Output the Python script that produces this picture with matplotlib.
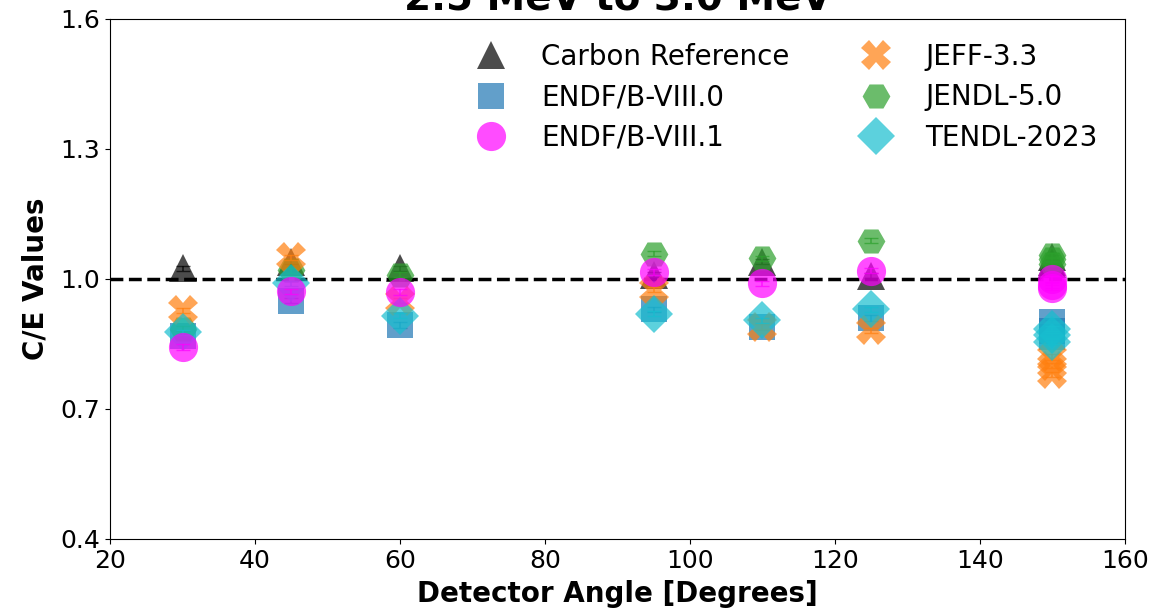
import numpy as np
import matplotlib
matplotlib.use('Agg')
import matplotlib.pyplot as plt

# detector angles (three detectors sit at 150 degrees)
angles = [30, 45, 60, 95, 110, 125, 150, 150, 150]

carbon = [1.025, 1.040, 1.025, 1.010, 1.040, 1.008, 1.050, 1.040, 1.035]
endf80 = [0.868, 0.950, 0.894, 0.930, 0.889, 0.910, 0.900, 0.880, 0.865]
endf81 = [0.843, 0.972, 0.970, 1.016, 0.990, 1.019, 1.000, 0.985, 0.980]
jeff33 = [0.928, 1.050, 0.950, 0.975, 0.890, 0.882, 0.820, 0.800, 0.780]
jendl50 = [0.885, 1.020, 1.010, 1.058, 1.048, 1.088, 1.055, 1.045, 1.035]
tendl23 = [0.877, 0.990, 0.915, 0.920, 0.905, 0.930, 0.885, 0.870, 0.855]
err = [0.006, 0.006, 0.006, 0.006, 0.006, 0.006, 0.006, 0.006, 0.006]

series = [
    ('Carbon Reference', carbon, '^', 'black', 20),
    ('ENDF/B-VIII.0', endf80, 's', 'tab:blue', 19),
    ('ENDF/B-VIII.1', endf81, 'o', 'magenta', 21),
    ('JEFF-3.3', jeff33, 'X', 'tab:orange', 21),
    ('JENDL-5.0', jendl50, 'H', 'tab:green', 20),
    ('TENDL-2023', tendl23, 'D', 'tab:cyan', 19),
]
zorders = [3, 2, 8, 4, 3, 5]

fig = plt.figure(figsize=(11.73, 6.08), dpi=100)
ax = fig.add_axes([0.0938, 0.1135, 0.8652, 0.8553])

for (name, vals, mk, col, ms), z in zip(series, zorders):
    ax.plot(angles, vals, mk, color=col, markersize=ms, alpha=0.7,
            markeredgewidth=0, linestyle='none', label=name, zorder=z)
    ax.errorbar(angles, vals, yerr=err, fmt='none', ecolor=col, alpha=0.7,
                capsize=5, elinewidth=1.2, zorder=z)

ax.axhline(1.0, color='black', linestyle='--', linewidth=2.5, zorder=1)

ax.set_xlim(20, 160)
ax.set_ylim(0.4, 1.6)
ax.set_xticks(np.arange(20, 161, 20))
ax.set_yticks([0.4, 0.7, 1.0, 1.3, 1.6])
ax.tick_params(labelsize=18)
ax.set_xlabel('Detector Angle [Degrees]', fontsize=20, fontweight='bold', labelpad=5)
ax.set_ylabel('C/E Values', fontsize=20, fontweight='bold', labelpad=8)
ax.set_title('2.5 MeV to 3.0 MeV', fontsize=28, fontweight='bold', pad=1)

ax.legend(ncol=2, frameon=False, fontsize=20, loc='upper right',
          bbox_to_anchor=(0.998, 1.002), columnspacing=2.1, handletextpad=0.8,
          labelspacing=0.45)

fig.savefig('out.png', dpi=100)
